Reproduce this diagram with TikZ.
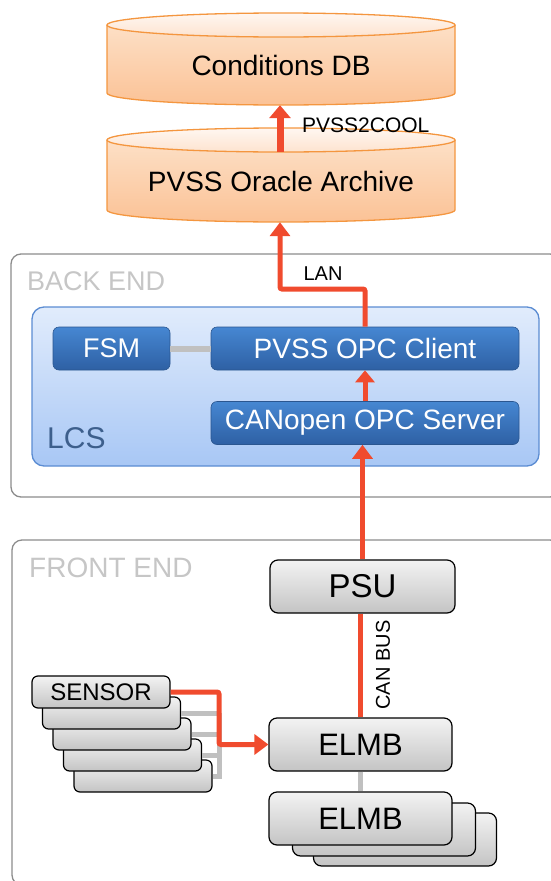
\documentclass[tikz,border=0pt]{standalone}
\usepackage{fontspec}
\setmainfont{Liberation Sans}
\usetikzlibrary{calc, shapes, arrows.meta}
\definecolor{linered}{HTML}{F04B2E}
\definecolor{linegray}{HTML}{C0C0C0}
\definecolor{groupedge}{HTML}{8C8C8C}
\definecolor{grouptext}{HTML}{C6C6C6}
\definecolor{lcstop}{HTML}{E1ECFC}
\definecolor{lcsbot}{HTML}{A8C7F5}
\definecolor{lcsedge}{HTML}{5B8CD2}
\definecolor{lcstext}{HTML}{3D5F8C}
\definecolor{bluetop}{HTML}{4687D2}
\definecolor{bluebot}{HTML}{2E60A4}
\definecolor{blueedge}{HTML}{2A5690}
\definecolor{graytop}{HTML}{F3F3F3}
\definecolor{graybot}{HTML}{C4C4C4}
\definecolor{dbtop}{HTML}{FDE4CD}
\definecolor{dbbot}{HTML}{FBC296}
\definecolor{dbcaptop}{HTML}{FFF7F1}
\definecolor{dbcapbot}{HTML}{FDE3CF}
\definecolor{dbedge}{HTML}{F4963F}

\begin{document}
\begin{tikzpicture}[x=1pt, y=-1pt,
	redline/.style={draw=linered, line width=5pt},
	redarrow/.style={redline, -{Triangle[width=20pt,length=14pt]}},
	grayline/.style={draw=linegray, line width=5pt},
	groupbox/.style={draw=groupedge, line width=1.3pt, rounded corners=10pt, inner sep=0pt},
	bluebox/.style={draw=blueedge, line width=0.6pt, rounded corners=6pt, top color=bluetop, bottom color=bluebot, text=white, inner sep=0pt, minimum height=43pt},
	graybox/.style={draw=black, line width=1.2pt, rounded corners=8pt, top color=graytop, bottom color=graybot, inner sep=0pt},
	sensorbox/.style={graybox, rounded corners=6pt, minimum width=138pt, minimum height=32pt}]
	\newcommand{\mysize}[1]{\fontsize{#1}{#1}\selectfont}
	\newcommand{\drawdrum}[3]{
		\shade[top color=dbtop, bottom color=dbbot] (#1,#2) -- (#1,#3) arc[start angle=180, end angle=0, x radius=174, y radius=12] -- ({#1+348},#2) arc[start angle=0, end angle=-180, x radius=174, y radius=12] -- cycle;
		\shade[top color=dbcaptop, bottom color=dbcapbot] ({#1+174},#2) ellipse [x radius=174, y radius=12];
		\draw[dbedge, line width=1.3pt] (#1,#2) -- (#1,#3) arc[start angle=180, end angle=0, x radius=174, y radius=12] -- ({#1+348},#2);
		\draw[dbedge, line width=1.3pt] ({#1+174},#2) ellipse [x radius=174, y radius=12];
	}
	\useasboundingbox (0,0) rectangle (551,881);
	%Databases on top
	\drawdrum{107}{25}{93}
	\node [minimum width=348pt, minimum height=80pt, inner sep=0pt, font=\mysize{28}] (condDB) at (281,65) {Conditions DB};
	\drawdrum{107}{140}{210}
	\node [minimum width=348pt, minimum height=82pt, inner sep=0pt, font=\mysize{28}] (archive) at (281,181) {PVSS Oracle Archive};
	%Back end
	\node [groupbox, minimum width=549pt, minimum height=243pt] (backend) at (285.5,375.5) {};
	\node [anchor=west, inner sep=0pt, text=grouptext, font=\mysize{27}] (backendlabel) at (27,281) {BACK END};
	\node [draw=lcsedge, line width=1.3pt, rounded corners=12pt, top color=lcstop, bottom color=lcsbot, minimum width=507pt, minimum height=159pt] (lcs) at (285.5,386.5) {};
	\node [anchor=west, inner sep=0pt, text=lcstext, font=\mysize{30}] (lcslabel) at (47,438) {LCS};
	\node [bluebox, minimum width=117pt, font=\mysize{27}] (fsm) at (111.5,348.5) {FSM};
	\node [bluebox, minimum width=308pt, font=\mysize{28}] (client) at (365,348.5) {PVSS OPC Client};
	\node [bluebox, minimum width=308pt, font=\mysize{28}] (canopen) at (365,423) {CANopen OPC Server};
	%Front end
	\node [groupbox, minimum width=548pt, minimum height=345pt] (frontend) at (286,712.5) {};
	\node [anchor=west, inner sep=0pt, text=grouptext, font=\mysize{28}] (frontendlabel) at (29,568) {FRONT END};
	\node [graybox, minimum width=185pt, minimum height=53pt, font=\mysize{33}] (psu) at (362.5,586.5) {PSU};
	\node [graybox, minimum width=183pt, minimum height=53pt, font=\mysize{31}] (elmb) at (360.5,744.5) {ELMB};
	%Stack of ELMBs
	\foreach \i/\cx/\cy in {3/405/839.5, 2/384/829.5} {
		\node [graybox, minimum width=183pt, minimum height=53pt] (elmbstack\i) at (\cx,\cy) {};
	}
	\node [graybox, minimum width=183pt, minimum height=53pt, font=\mysize{31}] (elmbstack1) at (360.5,818.5) {ELMB};
	%Stack of sensors
	\foreach \i in {5,4,...,2} {
		\node [sensorbox] (sensor\i) at ({101+(\i-1)*10.5},{692+(\i-1)*21}) {};
	}
	\node [sensorbox, font=\mysize{24}] (sensor1) at (101,692) {SENSOR};
	%Connections
	\coordinate (sjoin) at (219,744.5);
	\coordinate (lanbend) at (280,289);
	\foreach \i in {2,3,4} {
		\draw [grayline] (sensor\i.east) -- (sensor\i.east -| sjoin);
	}
	\draw [grayline] (sensor5.east) -| (sensor2.east -| sjoin);
	\draw [grayline] (elmb.south) -- (elmb.south |- elmbstack1.north);
	\draw [grayline, line width=6pt] (fsm.east) -- (client.west);
	\draw [redarrow, rounded corners=2pt] (sensor1.east) -| (sjoin) -- (elmb.west);
	\draw [redline] (elmb.north) -- (elmb.north |- psu.south);
	\node [rotate=90, inner sep=0pt, font=\mysize{20}] (canbus) at (383,665) {CAN BUS};
	\draw [redarrow] (psu.north) -- (psu.north |- canopen.south);
	\draw [redarrow, -{Triangle[width=19pt,length=12pt]}] (canopen.north) -- (client.south);
	\draw [redarrow, rounded corners=2pt] (client.north) |- (lanbend) -- (lanbend |- archive.south);
	\node [inner sep=0pt, font=\mysize{20}] (lan) at (323,274) {LAN};
	\draw [redarrow, line width=7pt, -{Triangle[width=21pt,length=13pt]}] ([yshift=-12pt]archive.north -| lanbend) -- (lanbend |- condDB.south);
	\node [anchor=west, inner sep=0pt, font=\mysize{21}] (pvss2cool) at (302,125) {PVSS2COOL};
\end{tikzpicture}
\end{document}
